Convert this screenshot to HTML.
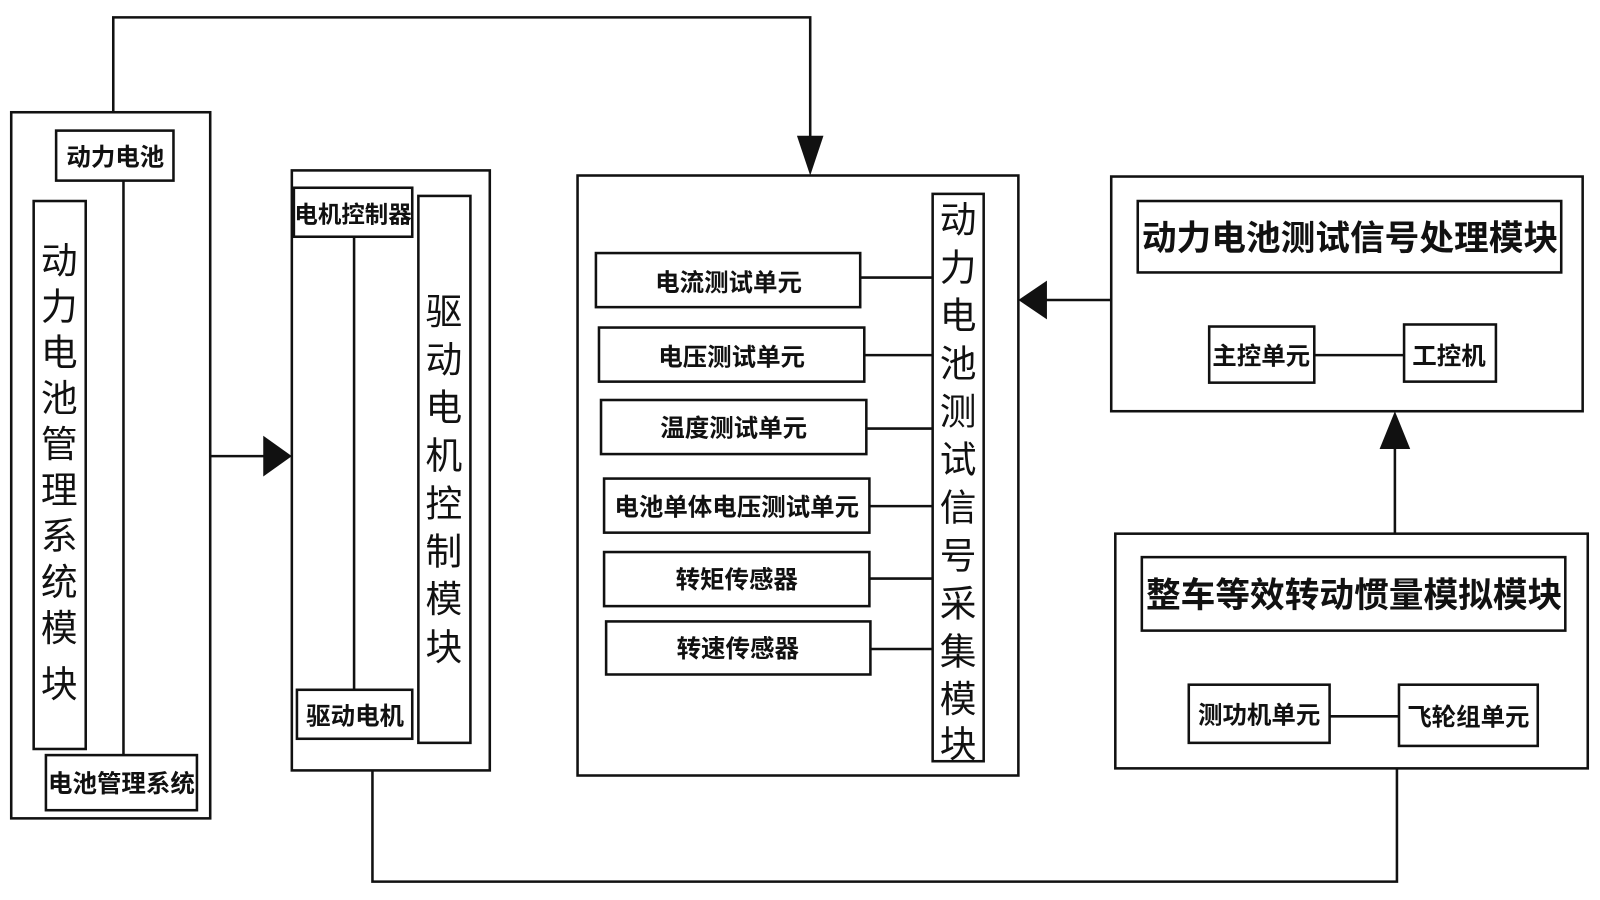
<!DOCTYPE html>
<html><head><meta charset="utf-8"><style>
html,body{margin:0;padding:0;background:#fff;width:1600px;height:900px;overflow:hidden}
svg{display:block}
text{font-family:"Liberation Sans","Noto Sans CJK SC",sans-serif;fill:#111;font-weight:bold}
.v text{font-weight:normal}
</style></head><body>
<svg width="1600" height="900" viewBox="0 0 1568 882" preserveAspectRatio="none" xmlns="http://www.w3.org/2000/svg">
<g fill="none" stroke="#111" stroke-width="2.5">
<rect x="11" y="110" width="195" height="692"/>
<rect x="55" y="128" width="115" height="49"/>
<rect x="33" y="197" width="51" height="537"/>
<rect x="45" y="740" width="148" height="54"/>
<line x1="121" y1="177" x2="121" y2="740"/>
<rect x="286" y="167" width="194" height="588"/>
<rect x="288" y="184" width="116" height="48"/>
<rect x="410" y="192" width="51" height="536"/>
<rect x="291" y="676" width="113" height="48"/>
<line x1="347" y1="232" x2="347" y2="676"/>
<rect x="566" y="172" width="432" height="588"/>
<rect x="914" y="190" width="50" height="556"/>
<rect x="584" y="248" width="259" height="53"/>
<rect x="587" y="321" width="260" height="53"/>
<rect x="589" y="392" width="260" height="53"/>
<rect x="592" y="469" width="260" height="53"/>
<rect x="592" y="541" width="260" height="53"/>
<rect x="594" y="609" width="259" height="52"/>
<line x1="843" y1="272" x2="914" y2="272"/>
<line x1="847" y1="348" x2="914" y2="348"/>
<line x1="849" y1="420" x2="914" y2="420"/>
<line x1="852" y1="496" x2="914" y2="496"/>
<line x1="852" y1="567" x2="914" y2="567"/>
<line x1="853" y1="636" x2="914" y2="636"/>
<rect x="1089" y="173" width="462" height="230"/>
<rect x="1115" y="197" width="415" height="70"/>
<rect x="1185" y="320" width="103" height="55"/>
<rect x="1376" y="318" width="90" height="56"/>
<line x1="1288" y1="348" x2="1376" y2="348"/>
<rect x="1093" y="523" width="463" height="230"/>
<rect x="1119" y="546" width="415" height="72"/>
<rect x="1165" y="671" width="138" height="57"/>
<rect x="1371" y="671" width="136" height="60"/>
<line x1="1303" y1="702" x2="1371" y2="702"/>
<polyline points="111,110 111,17 794,17 794,145"/>
<line x1="206" y1="447" x2="262" y2="447"/>
<line x1="1089" y1="294" x2="1025" y2="294"/>
<line x1="1367" y1="523" x2="1367" y2="440"/>
<polyline points="365,755 365,864 1369,864 1369,753"/>
</g>
<g fill="#111">
<polygon points="781,133 807,133 794,172"/>
<polygon points="258,427 258,467 286,447"/>
<polygon points="1026,275 1026,313 998,294"/>
<polygon points="1352,440 1382,440 1367,403"/>
</g>
<g font-size="24" text-anchor="middle">
<text x="113" y="162">动力电池</text>
<text x="119" y="776">电池管理系统</text>
<text x="346" y="218" font-size="23">电机控制器</text>
<text x="348" y="710">驱动电机</text>
<text x="714" y="285">电流测试单元</text>
<text x="717" y="358">电压测试单元</text>
<text x="719" y="428">温度测试单元</text>
<text x="722" y="505">电池单体电压测试单元</text>
<text x="722" y="576">转矩传感器</text>
<text x="723" y="644">转速传感器</text>
<text x="1236" y="357">主控单元</text>
<text x="1420" y="357">工控机</text>
<text x="1234" y="709">测功机单元</text>
<text x="1439" y="711">飞轮组单元</text>
</g>
<g font-size="34" text-anchor="middle">
<text x="1323" y="245">动力电池测试信号处理模块</text>
<text x="1327" y="595">整车等效转动惯量模拟模块</text>
</g>
<g class="v" font-size="36" text-anchor="middle">
<text x="58" y="268">动</text><text x="58" y="313">力</text><text x="58" y="358">电</text><text x="58" y="403">池</text><text x="58" y="448">管</text><text x="58" y="493">理</text><text x="58" y="538">系</text><text x="58" y="583">统</text><text x="58" y="628">模</text><text x="58" y="683">块</text>
<text x="435" y="318">驱</text><text x="435" y="365">动</text><text x="435" y="412">电</text><text x="435" y="459">机</text><text x="435" y="506">控</text><text x="435" y="553">制</text><text x="435" y="600">模</text><text x="435" y="647">块</text>
<text x="939" y="228">动</text><text x="939" y="275">力</text><text x="939" y="322">电</text><text x="939" y="369">池</text><text x="939" y="416">测</text><text x="939" y="463">试</text><text x="939" y="510">信</text><text x="939" y="557">号</text><text x="939" y="604">采</text><text x="939" y="651">集</text><text x="939" y="698">模</text><text x="939" y="742">块</text>
</g>
</svg>
</body></html>
